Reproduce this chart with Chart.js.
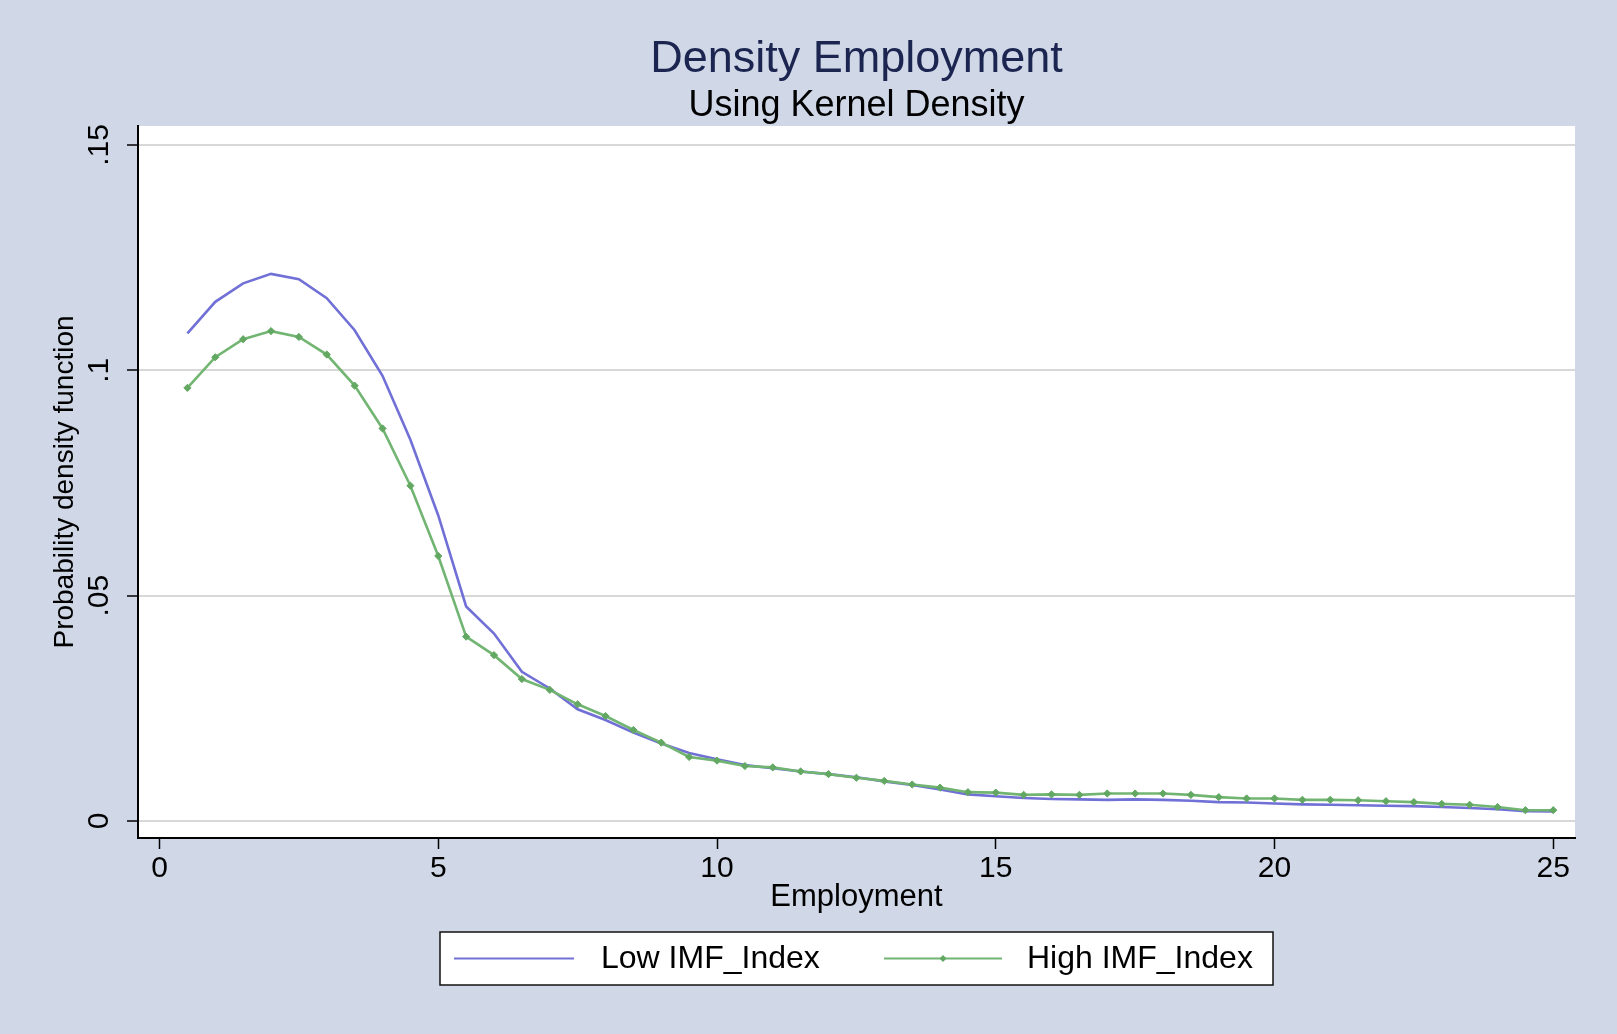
<!DOCTYPE html>
<html>
<head>
<meta charset="utf-8">
<script src="https://cdn.jsdelivr.net/npm/chart.js@4.4.1/dist/chart.umd.min.js"></script>
<style>
html,body{margin:0;padding:0;background:#D0D8E8;}
#wrap{width:1617px;height:1034px;position:relative;}
canvas{display:block;}
</style>
</head>
<body>
<div id="wrap"><canvas id="c" width="1617" height="1034"></canvas></div>
<script>
// ---- data ----
const employment = [0.5,1,1.5,2,2.5,3,3.5,4,4.5,5,5.5,6,6.5,7,7.5,8,8.5,9,9.5,10,
  10.5,11,11.5,12,12.5,13,13.5,14,14.5,15,15.5,16,16.5,17,17.5,18,18.5,19,19.5,20,
  20.5,21,21.5,22,22.5,23,23.5,24,24.5,25];
const lowIMF = [0.1082,0.1152,0.1193,0.1214,0.1202,0.1160,0.1089,0.0988,0.0846,0.0678,
  0.0476,0.0416,0.0331,0.0294,0.0248,0.0224,0.0196,0.0172,0.0151,0.0137,
  0.0124,0.0117,0.0110,0.0104,0.0097,0.0088,0.0080,0.0070,0.0059,0.0055,
  0.0051,0.0049,0.0048,0.0047,0.0048,0.0047,0.0045,0.0042,0.0041,0.0039,
  0.0037,0.0036,0.0035,0.0034,0.0033,0.0031,0.0029,0.0026,0.0022,0.0021];
const highIMF = [0.0961,0.1029,0.1069,0.1087,0.1074,0.1035,0.0966,0.0871,0.0744,0.0588,
  0.0409,0.0368,0.0315,0.0291,0.0259,0.0233,0.0202,0.0174,0.0142,0.0134,
  0.0122,0.0119,0.0110,0.0104,0.0096,0.0089,0.0081,0.0074,0.0064,0.0063,
  0.0058,0.0059,0.0058,0.0061,0.0061,0.0061,0.0058,0.0053,0.0050,0.0050,
  0.0047,0.0047,0.0046,0.0044,0.0042,0.0038,0.0036,0.0031,0.0024,0.0024];
const seriesLabels = ['Low IMF_Index','High IMF_Index'];
const xTicks = [0,5,10,15,20,25];
const xTickLabels = ['0','5','10','15','20','25'];
const yTicks = [0,0.05,0.1,0.15];
const yTickLabels = ['0','.05','.1','.15'];

// ---- style ----
const FONT = '"Liberation Sans", Arial, Helvetica, sans-serif';
const BG = '#D0D8E8';
const BLUE = '#7070D6';
const GREEN = '#72B572';
const GREEN_MK = '#62A862';

const bgPlugin = {
  id: 'bg',
  beforeDraw(chart) {
    const {ctx, chartArea: a} = chart;
    ctx.save();
    ctx.fillStyle = BG;
    ctx.fillRect(0, 0, chart.width, chart.height);
    ctx.fillStyle = '#FFFFFF';
    ctx.fillRect(a.left, a.top, a.right - a.left, a.bottom - a.top);
    ctx.restore();
  }
};

const yLabelPlugin = {
  id: 'ylabels',
  afterDraw(chart) {
    const {ctx} = chart;
    const ys = chart.scales.y;
    ctx.save();
    ctx.fillStyle = '#000';
    ctx.font = '30px ' + FONT;
    ctx.textAlign = 'center';
    ctx.textBaseline = 'middle';
    ys.ticks.forEach((t) => {
      const py = ys.getPixelForValue(t.value);
      ctx.save();
      ctx.translate(100, py);
      ctx.rotate(-Math.PI / 2);
      ctx.fillText(yTickLabels[yTicks.indexOf(t.value)], 0, 0);
      ctx.restore();
    });
    ctx.restore();
  }
};

const legendPlugin = {
  id: 'boxlegend',
  afterDraw(chart) {
    const {ctx} = chart;
    const ds = chart.data.datasets;
    const bx = 440, by = 932, bw = 833, bh = 53;
    const cy = by + bh / 2;
    ctx.save();
    ctx.fillStyle = '#FFFFFF';
    ctx.fillRect(bx, by, bw, bh);
    ctx.strokeStyle = '#111';
    ctx.lineWidth = 1.5;
    ctx.strokeRect(bx, by, bw, bh);
    const entries = [
      {x1: 454, x2: 574, tx: 601, d: ds[0], marker: false},
      {x1: 884, x2: 1002, tx: 1027, d: ds[1], marker: true}
    ];
    ctx.font = '32px ' + FONT;
    ctx.textBaseline = 'middle';
    ctx.textAlign = 'left';
    entries.forEach(e => {
      ctx.strokeStyle = e.d.borderColor;
      ctx.lineWidth = 2;
      ctx.beginPath();
      ctx.moveTo(e.x1, cy);
      ctx.lineTo(e.x2, cy);
      ctx.stroke();
      if (e.marker) {
        const mx = (e.x1 + e.x2) / 2, r = 3.5;
        ctx.fillStyle = e.d.pointBackgroundColor;
        ctx.beginPath();
        ctx.moveTo(mx, cy - r); ctx.lineTo(mx + r, cy); ctx.lineTo(mx, cy + r); ctx.lineTo(mx - r, cy);
        ctx.closePath();
        ctx.fill();
      }
      ctx.fillStyle = '#000';
      ctx.fillText(e.d.label, e.tx, cy + 1);
    });
    ctx.restore();
  }
};

const ctx = document.getElementById('c').getContext('2d');
new Chart(ctx, {
  type: 'line',
  data: {
    datasets: [
      {
        label: seriesLabels[0],
        data: employment.map((x, i) => ({x: x, y: lowIMF[i]})),
        borderColor: BLUE,
        backgroundColor: BLUE,
        borderWidth: 2.6,
        pointRadius: 0,
        tension: 0,
        fill: false,
        order: 1
      },
      {
        label: seriesLabels[1],
        data: employment.map((x, i) => ({x: x, y: highIMF[i]})),
        borderColor: GREEN,
        backgroundColor: GREEN,
        borderWidth: 2.6,
        pointStyle: 'rectRot',
        pointRadius: 3.6,
        pointBackgroundColor: GREEN_MK,
        pointBorderColor: GREEN_MK,
        pointBorderWidth: 1,
        tension: 0,
        fill: false,
        order: 0
      }
    ]
  },
  options: {
    responsive: false,
    animation: false,
    devicePixelRatio: 1,
    layout: {padding: {left: 30, top: 10, right: 42, bottom: 118}},
    plugins: {
      legend: {display: false},
      tooltip: {enabled: false},
      title: {
        display: true,
        text: 'Density Employment',
        color: '#1B2550',
        fullSize: false,
        font: {family: FONT, size: 45, weight: 'normal', lineHeight: 1},
        padding: {top: 26.8, bottom: 0}
      },
      subtitle: {
        display: true,
        text: 'Using Kernel Density',
        color: '#000',
        fullSize: false,
        font: {family: FONT, size: 36, weight: 'normal', lineHeight: 1},
        padding: {top: 6.2, bottom: 2}
      }
    },
    scales: {
      x: {
        type: 'linear',
        min: -0.386,
        max: 25.39,
        afterBuildTicks: s => { s.ticks = xTicks.map(v => ({value: v})); },
        afterFit: s => { s.height = 78; },
        ticks: {
          autoSkip: false, maxRotation: 0, minRotation: 0, padding: 2,
          color: '#000',
          font: {family: FONT, size: 30},
          callback: v => xTickLabels[xTicks.indexOf(v)]
        },
        grid: {drawOnChartArea: false, drawTicks: true, tickLength: 11, tickColor: '#000', tickWidth: 1.5},
        border: {display: true, color: '#000', width: 2},
        title: {
          display: true, text: 'Employment', color: '#000',
          font: {family: FONT, size: 31, lineHeight: 1.2},
          padding: {top: 0, bottom: 0}
        }
      },
      y: {
        type: 'linear',
        min: -0.00377,
        max: 0.15421,
        afterBuildTicks: s => { s.ticks = yTicks.map(v => ({value: v})); },
        afterFit: s => { s.width = 108; },
        ticks: {display: false, callback: v => yTickLabels[yTicks.indexOf(v)]},
        grid: {
          drawOnChartArea: true, drawTicks: true, tickLength: 11,
          color: '#D8D8D8', lineWidth: 2, tickColor: '#000', tickWidth: 1.5
        },
        border: {display: true, color: '#000', width: 2},
        title: {
          display: true, text: 'Probability density function', color: '#000',
          font: {family: FONT, size: 28, lineHeight: 1.2},
          padding: {top: 18.7, bottom: 0}
        }
      }
    }
  },
  plugins: [bgPlugin, yLabelPlugin, legendPlugin]
});
</script>
</body>
</html>
